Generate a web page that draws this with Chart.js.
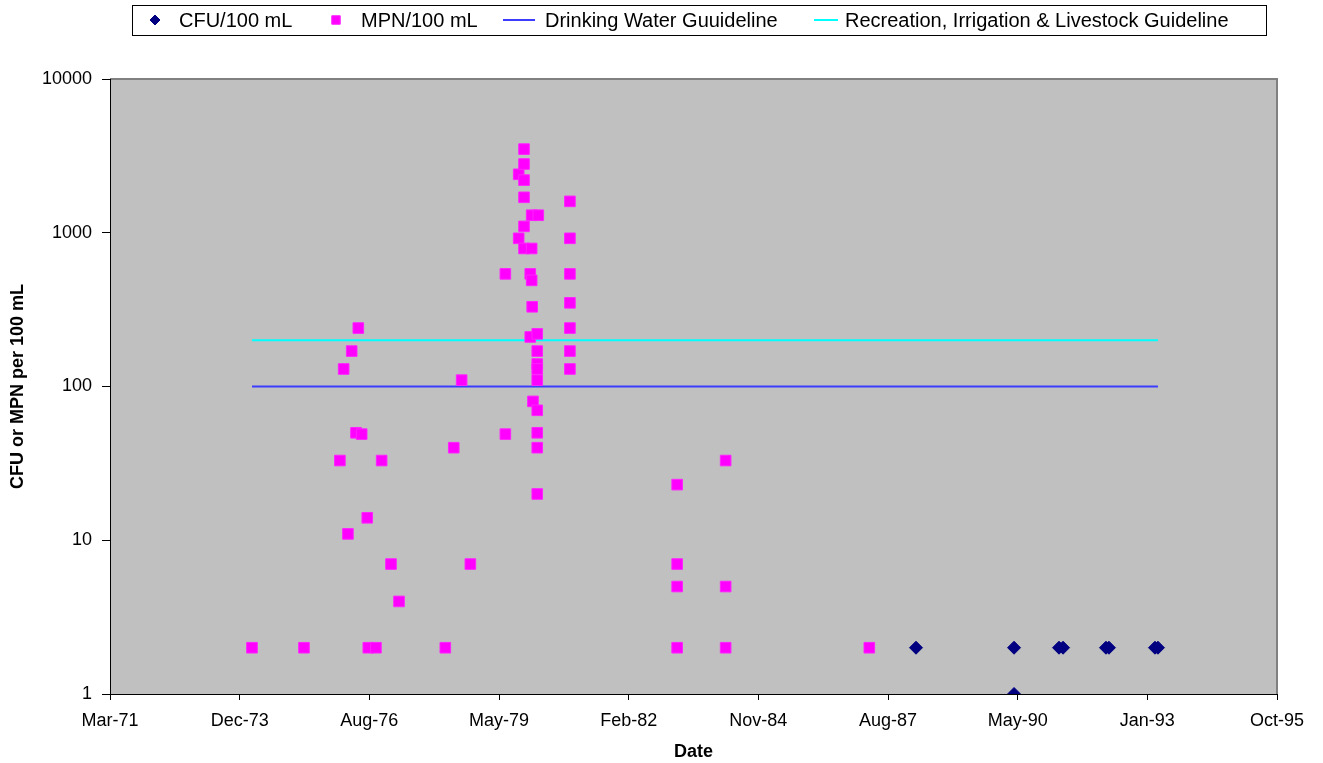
<!DOCTYPE html>
<html>
<head>
<meta charset="utf-8">
<title>CFU / MPN per 100 mL</title>
<script src="https://cdn.jsdelivr.net/npm/chart.js@4.4.0/dist/chart.umd.min.js"></script>
<style>
  html, body { margin: 0; padding: 0; background: #fff; }
  #wrap { width: 1323px; height: 763px; position: relative; }
</style>
</head>
<body>
<div id="wrap"><canvas id="chart"></canvas></div>
<script>
const monthNames = ['Jan','Feb','Mar','Apr','May','Jun','Jul','Aug','Sep','Oct','Nov','Dec'];

// sampling dates and counts
const cfuDates = ['1988-03-14','1990-04-09','1990-04-09','1991-03-22','1991-04-22',
  '1992-03-18','1992-04-10','1993-03-31','1993-04-23'];
const cfuValues = [2, 2, 1, 2, 2, 2, 2, 2, 2];

const mpnDates = [
  '1974-03-07','1975-04-12','1976-01-14','1976-02-12','1976-03-16','1976-04-14',
  '1976-05-17','1976-06-04','1976-06-30','1976-08-12','1976-08-20','1976-10-18',
  '1976-12-01','1977-02-11','1977-04-14','1978-04-06','1978-06-10','1978-08-10',
  '1978-10-16','1979-07-13','1979-07-13','1979-10-24','1979-10-24',
  '1979-12-04','1979-12-04','1979-12-04','1979-12-04','1979-12-04','1979-12-04',
  '1980-01-21','1980-01-21','1980-02-01','1980-02-01','1980-02-01','1980-02-05',
  '1980-02-11','1980-03-15','1980-03-15','1980-03-15','1980-03-15','1980-03-15',
  '1980-03-15','1980-03-15','1980-03-15','1980-03-15','1980-03-23',
  '1980-11-22','1980-11-22','1980-11-22','1980-11-22','1980-11-22','1980-11-22','1980-11-22',
  '1983-02-27','1983-02-27','1983-02-27','1983-02-27',
  '1984-03-07','1984-03-07','1984-03-07','1987-03-20'];
const mpnValues = [
  2, 2, 33, 130, 11, 170,
  50, 240, 49, 14, 2, 2,
  33, 7, 4, 2, 40, 110,
  7, 540, 49, 2400, 920,
  3500, 2800, 2200, 1700, 1100, 790,
  540, 210, 1300, 790, 490, 330,
  80, 220, 170, 140, 130, 110,
  70, 50, 40, 20, 1300,
  1600, 920, 540, 350, 240, 170, 130,
  23, 7, 5, 2,
  33, 5, 2, 2];

const guideDates = ['1974-03-07', '1993-04-23'];
const drinkingValues = [100, 100];
const recreationValues = [200, 200];

const yTicks = [1, 10, 100, 1000, 10000];

// excel style day numbers, the axis runs 26000..35000 in 1000 day steps
const EPOCH = Date.UTC(1899, 11, 30);
function toSerial(s) {
  const [y, m, d] = s.split('-').map(Number);
  return (Date.UTC(y, m - 1, d) - EPOCH) / 86400000;
}
function serialLabel(v) {
  const dt = new Date(EPOCH + v * 86400000);
  return monthNames[dt.getUTCMonth()] + '-' + String(dt.getUTCFullYear()).slice(2);
}
function points(dates, values) {
  return dates.map((d, i) => ({x: toSerial(d), y: values[i]}));
}

Chart.defaults.font.family = '"Liberation Sans", Arial, sans-serif';
Chart.defaults.color = '#000';

const plotBg = {
  id: 'plotBg',
  beforeDraw(chart) {
    const {ctx, chartArea: a} = chart;
    ctx.save();
    ctx.fillStyle = '#c0c0c0';
    ctx.fillRect(a.left, a.top, a.right - a.left, a.bottom - a.top);
    ctx.strokeStyle = '#808080';
    ctx.lineWidth = 2;
    ctx.beginPath();
    ctx.moveTo(a.left, a.top);
    ctx.lineTo(a.right, a.top);
    ctx.lineTo(a.right, a.bottom);
    ctx.stroke();
    ctx.restore();
  }
};

// boxed legend in one row above the plot
const boxLegend = {
  id: 'boxLegend',
  afterDraw(chart) {
    const ctx = chart.ctx;
    const y = 20;
    const markX = [155, 336, 519, 826];
    const halfLen = [0, 0, 16, 12];
    const textX = [179, 361, 545, 845];
    ctx.save();
    ctx.strokeStyle = '#000';
    ctx.lineWidth = 1;
    ctx.strokeRect(132.5, 5.5, 1134, 30);
    ctx.font = '20px "Liberation Sans", Arial, sans-serif';
    ctx.textBaseline = 'middle';
    chart.data.datasets.forEach((ds, i) => {
      const cx = markX[i];
      if (ds.showLine) {
        ctx.strokeStyle = ds.borderColor;
        ctx.lineWidth = ds.borderWidth;
        ctx.beginPath();
        ctx.moveTo(cx - halfLen[i], y);
        ctx.lineTo(cx + halfLen[i], y);
        ctx.stroke();
      } else {
        ctx.fillStyle = ds.backgroundColor;
        ctx.strokeStyle = ds.borderColor;
        ctx.lineWidth = 1;
        Chart.helpers.drawPoint(ctx, {
          pointStyle: ds.pointStyle,
          radius: ds.pointStyle === 'rect' ? 6 : 5,
          borderWidth: 1,
          rotation: 0
        }, cx, y);
      }
      ctx.fillStyle = '#000';
      ctx.fillText(ds.label, textX[i], y + 1);
    });
    ctx.restore();
  }
};

new Chart(document.getElementById('chart'), {
  type: 'scatter',
  data: {
    datasets: [
      {
        label: 'CFU/100 mL',
        data: points(cfuDates, cfuValues),
        pointStyle: 'rectRot',
        pointRadius: 6.5,
        backgroundColor: '#000080',
        borderColor: '#000080',
        borderWidth: 1,
        order: 0
      },
      {
        label: 'MPN/100 mL',
        data: points(mpnDates, mpnValues),
        pointStyle: 'rect',
        pointRadius: 7.5,
        backgroundColor: '#ff00ff',
        borderColor: '#ff22ff',
        borderWidth: 1,
        order: 1
      },
      {
        type: 'line',
        label: 'Drinking Water Guuideline',
        data: points(guideDates, drinkingValues),
        showLine: true,
        borderColor: '#3c3cff',
        borderWidth: 2,
        pointRadius: 0,
        fill: false,
        order: 2
      },
      {
        type: 'line',
        label: 'Recreation, Irrigation & Livestock Guideline',
        data: points(guideDates, recreationValues),
        showLine: true,
        borderColor: '#00ffff',
        borderWidth: 2,
        pointRadius: 0,
        fill: false,
        order: 3
      }
    ]
  },
  options: {
    responsive: true,
    maintainAspectRatio: false,
    animation: false,
    layout: { padding: { top: 79, right: 46, left: 0, bottom: 0 } },
    plugins: {
      legend: { display: false },
      tooltip: { enabled: false }
    },
    scales: {
      x: {
        type: 'linear',
        min: 26000,
        max: 35000,
        ticks: {
          stepSize: 1000,
          autoSkip: false,
          maxRotation: 0,
          padding: 10,
          font: { size: 18 },
          callback: v => serialLabel(v)
        },
        grid: { drawOnChartArea: false, tickLength: 6, color: '#000' },
        border: { color: '#000', width: 1 },
        title: { display: true, text: 'Date', font: { size: 18, weight: 'bold' }, padding: 0 },
        afterFit: s => { s.height = 69; }
      },
      y: {
        type: 'logarithmic',
        min: 1,
        max: 10000,
        afterBuildTicks: s => { s.ticks = yTicks.map(v => ({ value: v })); },
        ticks: {
          padding: 10,
          font: { size: 18 },
          callback: v => String(v)
        },
        grid: { drawOnChartArea: false, tickLength: 8, color: '#000' },
        border: { color: '#000', width: 1 },
        title: {
          display: true,
          text: 'CFU or MPN per 100 mL',
          font: { size: 18, weight: 'bold' },
          padding: { top: 7, bottom: 0 }
        },
        afterFit: s => { s.width = 110; }
      }
    }
  },
  plugins: [plotBg, boxLegend]
});
</script>
</body>
</html>
